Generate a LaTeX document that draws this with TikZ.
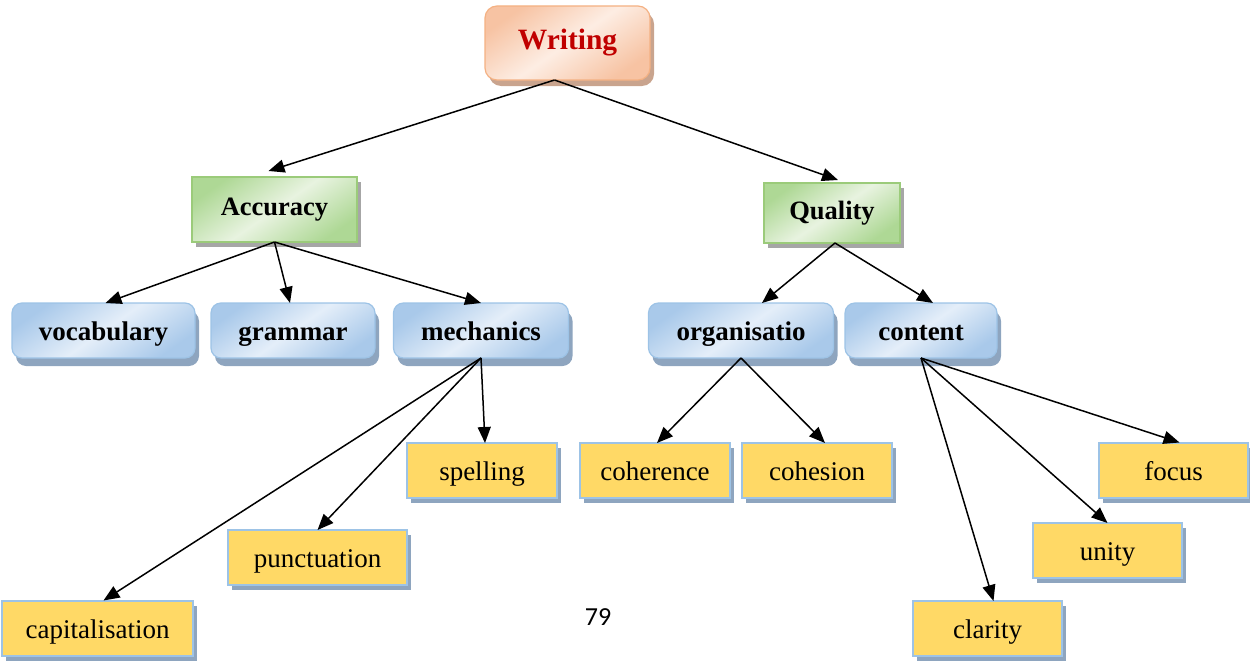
\documentclass[tikz,border=0pt]{standalone}
\usepackage{fontspec}
\setmainfont{Liberation Serif}
\newfontfamily\pagenumfont{Carlito}
\usetikzlibrary{arrows.meta,shadows}

\definecolor{peachEdge}{HTML}{F4B183}
\definecolor{peachDark}{HTML}{F7C3A3}
\definecolor{peachLight}{HTML}{FDEDE3}
\definecolor{peachShadow}{HTML}{C9A48E}
\definecolor{titleRed}{HTML}{C00000}
\definecolor{greenEdge}{HTML}{9BCB7A}
\definecolor{greenDark}{HTML}{AED895}
\definecolor{greenLight}{HTML}{E8F3E0}
\definecolor{blueEdge}{HTML}{9DC3E6}
\definecolor{blueDark}{HTML}{A9C9EA}
\definecolor{blueLight}{HTML}{E4EEF9}
\definecolor{blueShadow}{HTML}{8EA5BF}
\definecolor{greyShadow}{HTML}{A6A6A6}
\definecolor{leafFill}{HTML}{FFD966}
\definecolor{leafEdge}{HTML}{9DC3E6}

\begin{document}
\begin{tikzpicture}[x=1pt,y=-1pt,
  every node/.style={inner sep=0pt, outer sep=0pt, anchor=center},
  rootbox/.style={draw=peachEdge, line width=1.2pt, rounded corners=12pt,
    top color=peachDark, bottom color=peachDark, middle color=peachLight, shading angle=35,
    drop shadow={shadow xshift=4pt, shadow yshift=-6pt, fill=peachShadow, opacity=1},
    text=titleRed, font=\fontsize{29.5}{34}\selectfont\bfseries},
  catbox/.style={draw=greenEdge, line width=1.2pt,
    top color=greenDark, bottom color=greenDark, middle color=greenLight, shading angle=35,
    drop shadow={shadow xshift=4pt, shadow yshift=-5pt, fill=greyShadow, opacity=1},
    font=\fontsize{26.5}{30}\selectfont\bfseries},
  subbox/.style={draw=blueEdge, line width=1.2pt, rounded corners=10pt,
    minimum height=55pt, text height=25pt, text depth=6pt,
    top color=blueDark, bottom color=blueDark, middle color=blueLight, shading angle=35,
    drop shadow={shadow xshift=4pt, shadow yshift=-8pt, fill=blueShadow, opacity=1},
    font=\fontsize{27}{30}\selectfont\bfseries},
  leafbox/.style={draw=leafEdge, line width=2pt, fill=leafFill, minimum height=55pt,
    text height=26pt, text depth=6pt,
    drop shadow={shadow xshift=4pt, shadow yshift=-5pt, fill=blueShadow, opacity=1},
    font=\fontsize{27}{30}\selectfont},
  arr/.style={line width=1.5pt, -{Triangle[length=16pt,width=13pt]}}
]
\useasboundingbox (0,0) rectangle (1250,661);

% root and categories
\node[rootbox, minimum width=165pt, minimum height=74pt] (w) at (567.5,43) {Writing};
\node[catbox, minimum width=165pt, minimum height=65pt] (acc) at (274.5,209.5) {Accuracy};
\node[catbox, minimum width=136pt, minimum height=60pt] (qual) at (832,213) {Quality};

% second level
\node[subbox, minimum width=183pt] (voc)  at (103.5,330.5) {vocabulary};
\node[subbox, minimum width=164pt] (gram) at (293,330.5) {grammar};
\node[subbox, minimum width=175pt] (mech) at (481,330.5) {mechanics};
\node[subbox, minimum width=185pt] (org)  at (741,330.5) {organisatio};
\node[subbox, minimum width=152pt] (cont) at (921,330.5) {content};

% leaves
\node[leafbox, minimum width=150pt] (spel) at (482,470.5) {spelling};
\node[leafbox, minimum width=179pt] (punc) at (317.5,557.5) {punctuation};
\node[leafbox, minimum width=191pt] (capi) at (97.5,628) {capitalisation};
\node[leafbox, minimum width=150pt] (cohr) at (655,470.5) {coherence};
\node[leafbox, minimum width=150pt] (cohs) at (817,470.5) {cohesion};
\node[leafbox, minimum width=149pt] (focu) at (1173.5,470) {focus};
\node[leafbox, minimum width=149pt] (unit) at (1107.5,550.5) {unity};
\node[leafbox, minimum width=149pt] (clar) at (987.5,628.5) {clarity};

% page number
\node[font=\pagenumfont\fontsize{26}{30}\selectfont] (pg) at (598,617) {79};

% connectors
\draw[arr] ([xshift=-13pt]w.south) -- ([xshift=-6pt,yshift=6pt]acc.north);
\draw[arr] ([xshift=-13pt]w.south) -- ([xshift=6pt,yshift=3pt]qual.north);

\draw[arr] (acc.south) -- ([xshift=2pt]voc.north);
\draw[arr] (acc.south) -- ([xshift=-3pt]gram.north);
\draw[arr] (acc.south) -- (mech.north);

\draw[arr] ([xshift=3pt]qual.south) -- ([xshift=21pt]org.north);
\draw[arr] ([xshift=3pt]qual.south) -- ([xshift=12pt]cont.north);

\draw[arr] (mech.south) -- ([xshift=3pt]spel.north);
\draw[arr] (mech.south) -- (punc.north);
\draw[arr] (mech.south) -- ([xshift=6pt]capi.north);

\draw[arr] (org.south) -- ([xshift=2pt]cohr.north);
\draw[arr] (org.south) -- ([xshift=8pt]cohs.north);

\draw[arr] (cont.south) -- ([xshift=6pt]focu.north);
\draw[arr] (cont.south) -- (unit.north);
\draw[arr] (cont.south) -- ([xshift=6pt]clar.north);
\end{tikzpicture}
\end{document}
